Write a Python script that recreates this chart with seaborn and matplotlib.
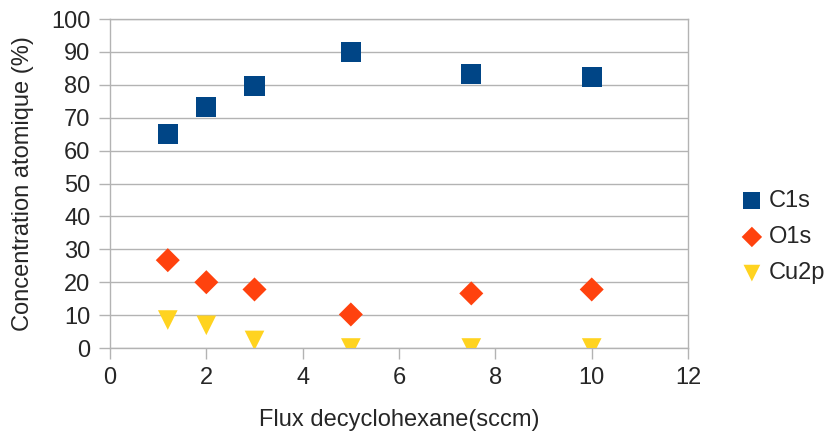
import pandas as pd
import numpy as np
import matplotlib
matplotlib.use("Agg")
import matplotlib.pyplot as plt
import seaborn as sns

flux = [1.2, 2, 3, 5, 7.5, 10]
c1s = [65.0, 73.3, 79.7, 90.0, 83.4, 82.4]
o1s = [26.7, 20.0, 17.8, 10.2, 16.6, 17.8]
cu2p = [8.5, 6.9, 2.3, 0.0, 0.0, 0.0]
series_names = ['C1s', 'O1s', 'Cu2p']

df = pd.DataFrame({'Flux': flux, 'C1s': c1s, 'O1s': o1s, 'Cu2p': cu2p})
df = df.melt(id_vars='Flux', var_name='Element', value_name='Concentration')

sns.set_style("white")
plt.rcParams['font.family'] = ['Liberation Sans', 'DejaVu Sans']

fig = plt.figure(figsize=(8.3, 4.43), dpi=100)
ax = fig.add_axes([0.1325, 0.2144, 0.6965, 0.7427])

palette = {'C1s': '#004586', 'O1s': '#ff420e', 'Cu2p': '#ffd320'}
markers = {'C1s': 's', 'O1s': 'D', 'Cu2p': 'v'}
sizes = {'C1s': 210, 'O1s': 150, 'Cu2p': 200}

for name in series_names:
    sub = df[df['Element'] == name]
    sns.scatterplot(data=sub, x='Flux', y='Concentration', ax=ax,
                    color=palette[name], marker=markers[name], s=sizes[name],
                    edgecolor='none', label=name, zorder=3)

ax.set_xlim(0, 12)
ax.set_ylim(0, 100)
ax.set_xticks(range(0, 13, 2))
ax.set_yticks(range(0, 101, 10))
ax.yaxis.grid(True, color='#b3b3b3', linewidth=1)
ax.xaxis.grid(False)
for sp in ax.spines.values():
    sp.set_color('#b3b3b3')
    sp.set_linewidth(1)
ax.tick_params(axis='both', which='both', length=8, width=1, color='#b3b3b3',
               labelsize=17, direction='out', bottom=True, left=True, pad=6)
ax.set_xlabel('Flux decyclohexane(sccm)', fontsize=17, labelpad=14)
ax.set_ylabel('Concentration atomique (%)', fontsize=17, labelpad=12)

leg = ax.legend(loc='center left', bbox_to_anchor=(1.0675, 0.337), frameon=False,
                fontsize=17, handletextpad=0.05, handlelength=1.3,
                labelspacing=0.6, markerscale=0.85, borderaxespad=0)

fig.savefig('out.png', dpi=100)
